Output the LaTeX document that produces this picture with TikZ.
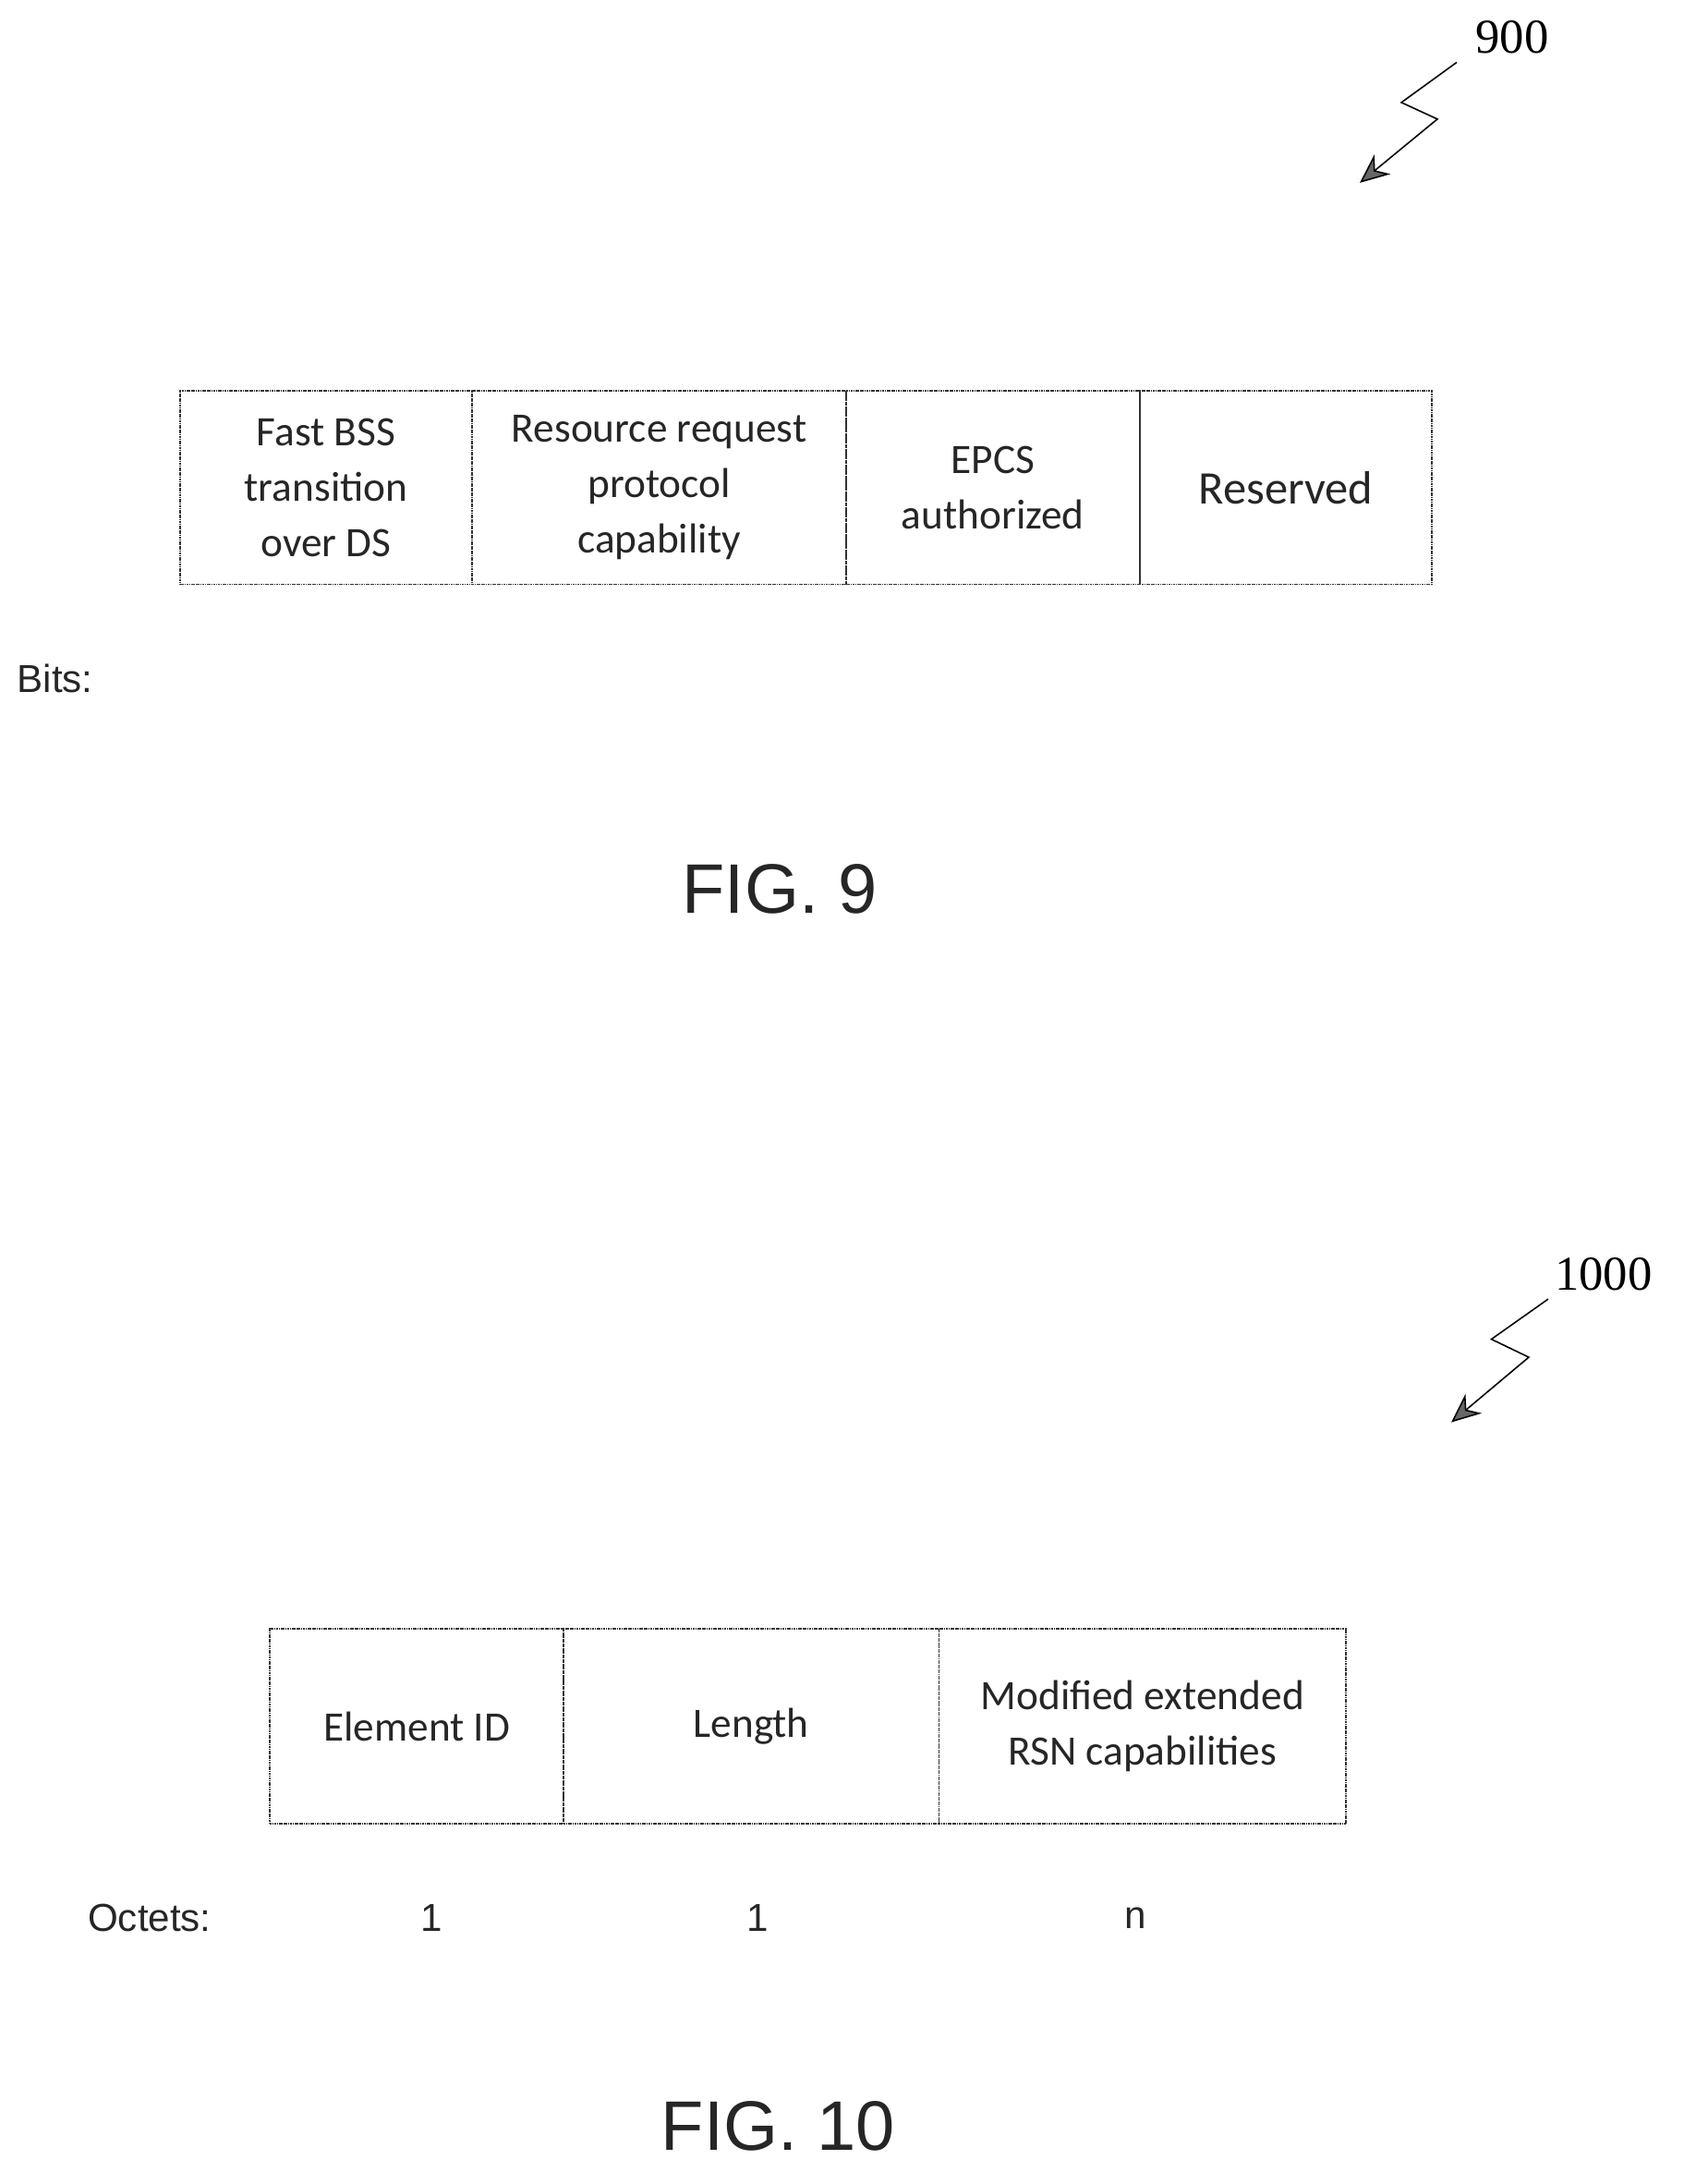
\documentclass[tikz,border=0pt]{standalone}
\usepackage{fontspec}
\setmainfont{Liberation Sans}
\newfontfamily\boxfont{Carlito}
\newfontfamily\numfont{Liberation Serif}
\usetikzlibrary{arrows.meta}
\begin{document}
\begin{tikzpicture}[x=0.05cm,y=-0.05cm,
  cell/.style={draw=black!80,line width=1.6pt,dash pattern=on 1.6pt off 0.7pt,inner sep=0pt,align=center,
     font=\boxfont\fontsize{43}{57}\selectfont,text=black!85},
  lab/.style={font=\fontsize{40}{48}\selectfont,text=black!85},
  fig/.style={font=\fontsize{72}{80}\selectfont,text=black!85},
  ref/.style={font=\numfont\fontsize{50}{56}\selectfont},
  sq/.style={line width=1.5pt,-{Stealth[length=30pt,width=26pt,fill=black!60]}}]
\useasboundingbox (0,0) rectangle (1216,1577);
% FIG 9
\node[cell,minimum width=211*0.05cm,minimum height=140*0.05cm] (a1) at (235.5,352) {Fast BSS\\transition\\over DS};
\node[cell,minimum width=270*0.05cm,minimum height=140*0.05cm] (a2) at (476,352) {Resource request\\protocol\\capability};
\node[cell,minimum width=212*0.05cm,minimum height=140*0.05cm] (a3) at (717,352) {EPCS\\authorized};
\node[cell,minimum width=211*0.05cm,minimum height=140*0.05cm,font=\boxfont\fontsize{48}{57}\selectfont] (a4) at (928.5,352) {Reserved};
\node[lab,anchor=west] (bits) at (10,490) {Bits:};
\node[fig] (f9) at (563,642) {FIG. 9};
\node[ref] (r9) at (1092,27) {900};
\coordinate (s9a) at (1052,45);
\coordinate (s9b) at (1012,74);
\coordinate (s9c) at (1038,86);
\coordinate (s9d) at (982,132);
\draw[sq] (s9a) -- (s9b) -- (s9c) -- (s9d);
% FIG 10
\node[cell,minimum width=212*0.05cm,minimum height=141*0.05cm] (b1) at (301,1246.5) {Element ID};
\node[cell,minimum width=271*0.05cm,minimum height=141*0.05cm] (b2) at (542.5,1246.5) {Length};
\node[cell,minimum width=294*0.05cm,minimum height=141*0.05cm] (b3) at (825,1246.5) {Modified extended\\RSN capabilities};
\node[lab] (oct) at (108,1385) {Octets:};
\node[lab] (o1) at (312,1385) {1};
\node[lab] (o2) at (547,1385) {1};
\node[lab] (o3) at (820,1385) {n};
\node[fig] (f10) at (562,1535) {FIG. 10};
\node[ref] (r10) at (1158,920) {1000};
\coordinate (s10a) at (1118,938);
\coordinate (s10b) at (1077,967);
\coordinate (s10c) at (1104,980);
\coordinate (s10d) at (1048,1027);
\draw[sq] (s10a) -- (s10b) -- (s10c) -- (s10d);
\end{tikzpicture}
\end{document}
